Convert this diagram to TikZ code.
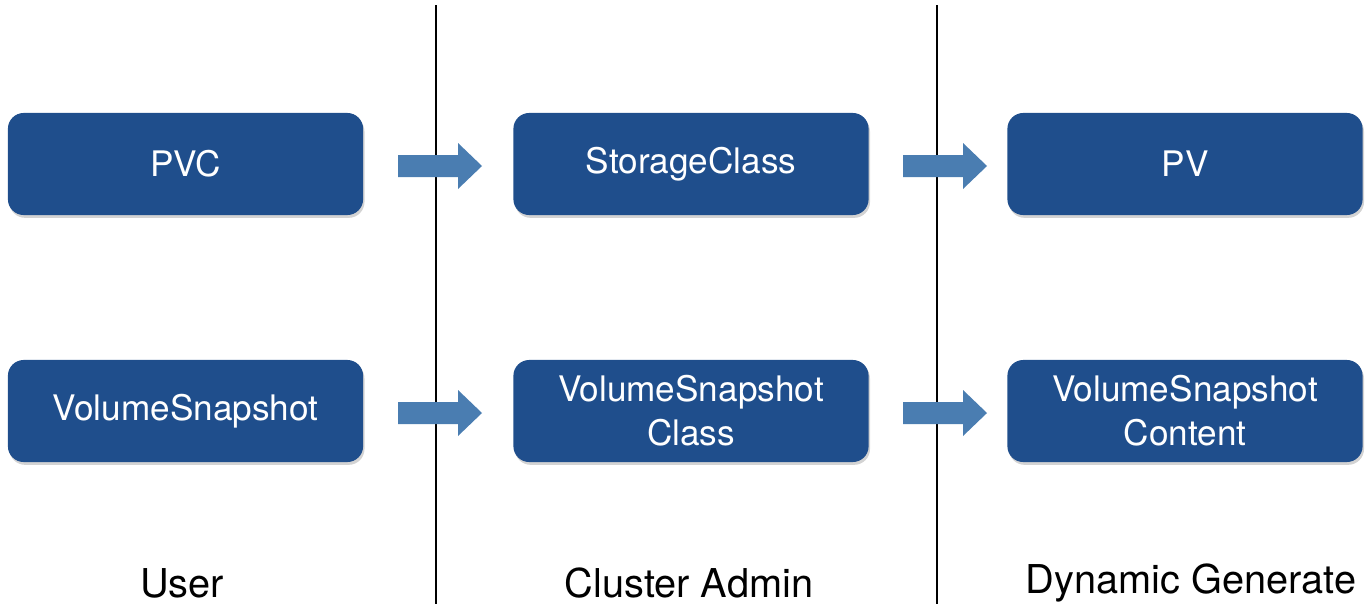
\documentclass[tikz,border=0pt]{standalone}
\usepackage{fontspec}
\setmainfont{TeX Gyre Heros}
\definecolor{k8sBox}{HTML}{1F4E8C}
\definecolor{k8sArrow}{HTML}{4A7DB1}
\usetikzlibrary{positioning,shadows}

\tikzset{
  objbox/.style={fill=k8sBox, rounded corners=4.5pt, minimum width=3.55cm, minimum height=1.02cm,
    text=white, font=\fontsize{10}{12.5}\selectfont, align=center,
    drop shadow={shadow xshift=0.4pt, shadow yshift=-0.8pt, opacity=0.35}},
  rolelabel/.style={font=\fontsize{11.3}{13}\selectfont, text=black}
}

\begin{document}
\begin{tikzpicture}[x=0.01cm, y=-0.01cm]
  \useasboundingbox (0,0) rectangle (1370,606);
  % role separators
  \draw[black, line width=0.6pt] (436,5) -- (436,604);
  \draw[black, line width=0.6pt] (937,5) -- (937,604);
  % volume row
  \node[objbox] (pvc) at (185.5,164) {PVC};
  \node[objbox] (sc) at (691,164) {StorageClass};
  \node[objbox] (pv) at (1185,164) {PV};
  % snapshot row
  \node[objbox] (vs) at (185.5,411) {VolumeSnapshot};
  \node[objbox] (vsc) at (691,411) {VolumeSnapshot\\[0pt]Class};
  \node[objbox] (vscontent) at (1185,411) {VolumeSnapshot\\[0pt]Content};
  % flow arrows
  \foreach \ax/\ay in {398/166, 903/166, 398/413, 903/413}{
    \fill[k8sArrow] (\ax,\ay-11) -- ++(60,0) -- ++(0,-12) -- ++(24,23) -- ++(-24,23) -- ++(0,-12) -- ++(-60,0) -- cycle;
  }
  % who owns what
  \node[rolelabel] (user) at (182,583) {User};
  \node[rolelabel] (admin) at (689,583) {Cluster Admin};
  \node[rolelabel] (dyn) at (1191,583) {Dynamic Generate};
\end{tikzpicture}
\end{document}
